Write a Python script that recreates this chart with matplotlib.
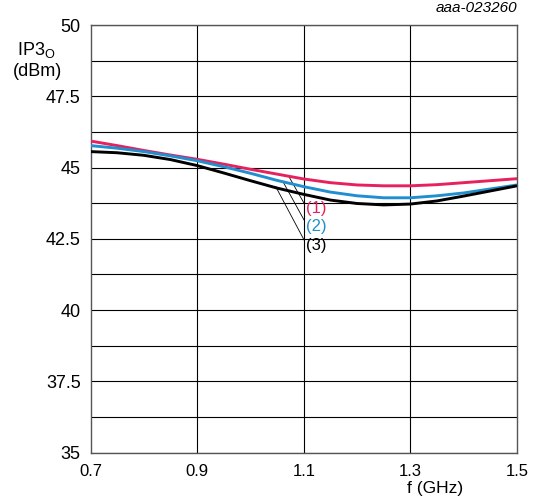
import matplotlib
matplotlib.use("Agg")
import matplotlib.pyplot as plt
import numpy as np

plt.rcParams['font.family'] = ['Liberation Sans', 'DejaVu Sans']

freq = [0.70, 0.75, 0.80, 0.85, 0.90, 0.95, 1.00, 1.05, 1.10, 1.15, 1.20, 1.25, 1.30, 1.35, 1.40, 1.45, 1.50]
ip3_1 = [45.93, 45.77, 45.60, 45.44, 45.29, 45.12, 44.94, 44.77, 44.60, 44.47, 44.39, 44.36, 44.36, 44.40, 44.47, 44.54, 44.61]
ip3_2 = [45.77, 45.68, 45.56, 45.41, 45.24, 45.03, 44.80, 44.55, 44.33, 44.14, 44.01, 43.94, 43.94, 44.01, 44.11, 44.25, 44.39]
ip3_3 = [45.56, 45.52, 45.43, 45.28, 45.07, 44.81, 44.54, 44.28, 44.06, 43.86, 43.74, 43.69, 43.72, 43.83, 44.00, 44.18, 44.36]

labels = ['(1)', '(2)', '(3)']
colors = ['#e6215d', '#1f8fd0', '#000000']
leader_start = [(1.0719, 44.69), (1.0606, 44.52), (1.0475, 44.33)]
leader_end = [(1.1006, 43.75), (1.1006, 43.16), (1.1006, 42.46)]
label_y = [43.56, 42.92, 42.25]

xticks = [0.7, 0.9, 1.1, 1.3, 1.5]
xticklabels = ['0.7', '0.9', '1.1', '1.3', '1.5']
yticks = [35, 37.5, 40, 42.5, 45, 47.5, 50]
yticklabels = ['35', '37.5', '40', '42.5', '45', '47.5', '50']

fig = plt.figure(figsize=(5.4, 5.0), dpi=100)
ax = fig.add_axes([0.1676, 0.0946, 0.7898, 0.8554])
ax.set_xlim(0.7, 1.5)
ax.set_ylim(35, 50)

for v in np.arange(35, 50.01, 1.25):
    ax.axhline(v, color='black', lw=0.8, zorder=1)
for v in [0.9, 1.1, 1.3]:
    ax.axvline(v, color='black', lw=0.8, zorder=1)

for ys, c in zip([ip3_1, ip3_2, ip3_3], colors):
    ax.plot(freq, ys, color=c, lw=2.1, zorder=3, solid_capstyle='butt')

for (s, e, lab, c, ly) in zip(leader_start, leader_end, labels, colors, label_y):
    ax.plot([s[0], e[0]], [s[1], e[1]], color='black', lw=0.6, zorder=2)
    ax.text(1.1047, ly, lab, color=c, fontsize=12, va='center', ha='left', zorder=4)

ax.set_xticks(xticks)
ax.set_xticklabels(xticklabels)
ax.set_yticks(yticks)
ax.set_yticklabels(yticklabels)
ax.tick_params(length=0, pad=7)
ax.tick_params(axis='y', labelsize=13)
ax.tick_params(axis='x', labelsize=12, pad=8)
for sp in ax.spines.values():
    sp.set_color('#555555')
    sp.set_linewidth(1.0)

fig.text(0.031, 0.900, 'IP3$_{\\mathregular{O}}$', fontsize=13, ha='left', va='center')
fig.text(0.024, 0.857, '(dBm)', fontsize=13, ha='left', va='center')
fig.text(0.805, 0.024, 'f (GHz)', fontsize=12.5, ha='center', va='center')
fig.text(0.958, 0.983, 'aaa-023260', fontsize=11, ha='right', va='center', style='italic')

fig.savefig('out.png', dpi=100)
